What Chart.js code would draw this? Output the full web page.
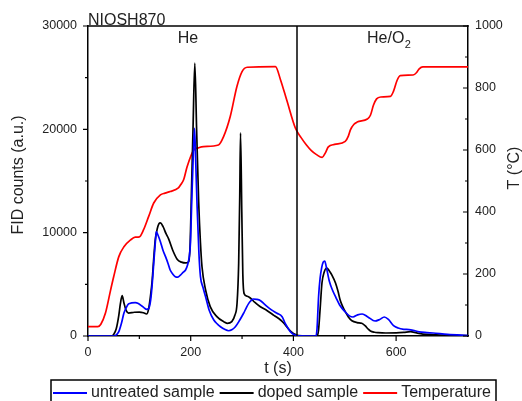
<!DOCTYPE html>
<html>
<head>
<meta charset="utf-8">
<script src="https://cdn.jsdelivr.net/npm/chart.js@4.4.1/dist/chart.umd.min.js"></script>
<style>
    html, body { margin: 0; padding: 0; background: #fff; }
</style>
</head>
<body>
<canvas id="fidChart" width="522" height="401"></canvas>
<script>
// untreated sample (blue)
let untreatedTime = [0, 50, 53, 56, 60, 65, 70, 75, 79, 85, 92, 98, 105, 110, 114, 118, 122, 125, 128, 131, 133, 136, 141, 146, 151, 156, 160, 165, 170, 175, 180, 185, 190, 194, 197, 199.5, 202, 205, 207.5, 210, 212.5, 216, 219, 224, 229, 236, 245, 252, 258, 266, 274, 280, 287, 295, 303, 308, 313, 318, 322, 328, 336, 343, 349, 358, 368, 378, 384, 389, 394, 399, 404, 410, 444, 446, 449, 452, 455, 458, 461, 464, 470, 476, 483, 490, 501, 509, 516, 525, 534, 545, 559, 568, 577, 585, 595, 604, 615, 625, 633, 645, 660, 672, 700, 740];
let untreatedFid = [0, 0, 30, 150, 420, 1200, 2220, 2800, 3100, 3200, 3230, 3150, 2900, 2700, 2580, 2650, 3480, 5000, 7030, 9000, 10100, 9800, 9130, 8300, 7680, 7000, 6390, 6000, 5740, 5700, 5900, 6150, 6390, 6900, 7600, 9000, 13000, 17500, 20100, 16500, 12500, 8000, 5740, 4700, 3800, 2500, 1550, 1150, 900, 650, 510, 600, 900, 1500, 2200, 2700, 3160, 3450, 3580, 3550, 3420, 3100, 2840, 2500, 2200, 1870, 1230, 800, 420, 200, 100, 20, 0, 700, 3800, 5600, 6600, 7150, 7260, 6700, 5300, 4450, 3700, 3000, 2320, 1950, 1840, 2050, 2130, 1850, 1450, 1600, 1840, 1600, 1000, 770, 650, 620, 550, 400, 330, 290, 150, 50];

// doped sample (black)
let dopedTime = [0, 45, 50, 55, 60, 63, 66.5, 70, 74, 79, 90, 100, 108, 114, 118, 122, 125, 128, 131, 135, 138, 141, 146, 152, 157, 165, 174, 182, 190, 196, 199, 201, 204.5, 208, 211.5, 215.5, 219, 222, 229, 238, 251, 264, 271, 280, 286, 290.3, 293.4, 295.5, 297, 299.5, 301.5, 304, 310, 316, 325, 335, 349, 362, 375, 381, 390, 400, 410, 446, 449, 452, 455.6, 460, 465, 470, 475, 482, 487, 491, 496, 501, 507, 514, 524, 533, 540, 545, 550, 558, 565, 580, 600, 615, 628, 640, 660, 700, 740];
let dopedFid = [0, 0, 150, 700, 2000, 3100, 3900, 3200, 2500, 2220, 2300, 2320, 2250, 2130, 2600, 4000, 5400, 7500, 9300, 10400, 10850, 10940, 10600, 9900, 9400, 8300, 7400, 7150, 7070, 7190, 9000, 13000, 20000, 26400, 20000, 13000, 9000, 6700, 4450, 2840, 1870, 1390, 1230, 1390, 2000, 3200, 7000, 13500, 19650, 12000, 6000, 4100, 3850, 3680, 3250, 2850, 2450, 2000, 1550, 1260, 700, 250, 50, 0, 600, 2600, 5130, 6200, 6580, 6300, 5900, 5130, 4300, 3480, 2850, 2350, 1850, 1480, 1300, 1230, 970, 700, 480, 360, 320, 290, 300, 350, 420, 300, 150, 80, 30];

// temperature (red, right axis)
let tempTime = [0, 19, 25, 34, 44, 50, 60, 70, 83, 92, 100, 108, 118, 128, 141, 150, 160, 176, 180, 186, 193, 206, 215, 225, 254, 264, 277, 290, 300, 310, 365, 375, 387, 404, 415, 425, 435, 445, 456, 462, 468, 480, 501, 507, 511, 518, 524, 544, 550, 556, 562, 570, 589, 595, 602, 608, 633, 640, 645, 652, 740];
let tempValues = [30, 30, 38, 74, 148, 191, 256, 288, 310, 319, 320, 342, 385, 429, 455, 461, 466, 478, 487, 503, 546, 600, 607, 611, 616, 643, 708, 805, 853, 867, 869, 826, 761, 670, 640, 617, 598, 585, 576, 590, 610, 618, 628, 645, 665, 683, 690, 700, 712, 745, 765, 771, 773, 790, 825, 840, 842, 850, 862, 868, 868];

let xLabelTicks = [0, 200, 400, 600];
let fidLabelTicks = [0, 10000, 20000, 30000];
let tempLabelTicks = [0, 200, 400, 600, 800, 1000];
let gasSwitchTime = 407;   // He -> He/O2

function toPoints(xs, ys) {
    return xs.map(function (x, i) { return { x: x, y: ys[i] }; });
}

let FONT = "'Liberation Sans', Arial, sans-serif";
Chart.defaults.font.family = FONT;
Chart.defaults.font.size = 12.5;
Chart.defaults.color = "#222";

// frame, tick marks, labels and the legend box
let decorations = {
    id: "decorations",
    afterDraw(chart) {
        let ctx = chart.ctx;
        let area = chart.chartArea;
        let xs = chart.scales.x, ys = chart.scales.y, ts = chart.scales.y1;

        ctx.save();
        ctx.strokeStyle = "#000";
        ctx.lineWidth = 1.5;

        // top frame
        ctx.beginPath();
        ctx.moveTo(area.left - 0.75, area.top);
        ctx.lineTo(area.right + 0.75, area.top);
        ctx.stroke();

        // divider between He and He/O2
        let sx = xs.getPixelForValue(gasSwitchTime);
        ctx.beginPath();
        ctx.moveTo(sx, area.top);
        ctx.lineTo(sx, area.bottom);
        ctx.stroke();

        // tick marks
        ctx.lineWidth = 1.2;
        ctx.beginPath();
        xs.ticks.forEach(function (t) {
            let px = xs.getPixelForValue(t.value);
            let len = xLabelTicks.includes(t.value) ? 5 : 3;
            ctx.moveTo(px, area.bottom);
            ctx.lineTo(px, area.bottom + len);
        });
        ys.ticks.forEach(function (t) {
            let py = ys.getPixelForValue(t.value);
            let len = fidLabelTicks.includes(t.value) ? 5 : 3;
            ctx.moveTo(area.left, py);
            ctx.lineTo(area.left - len, py);
        });
        ts.ticks.forEach(function (t) {
            let py = ts.getPixelForValue(t.value);
            let len = tempLabelTicks.includes(t.value) ? 5 : 3;
            ctx.moveTo(area.right, py);
            ctx.lineTo(area.right - len, py);
        });
        ctx.stroke();

        // texts
        ctx.fillStyle = "#222";
        ctx.font = "16px " + FONT;
        ctx.textBaseline = "alphabetic";
        ctx.textAlign = "left";
        ctx.fillText("NIOSH870", area.left, 25);

        ctx.textAlign = "center";
        ctx.fillText("He", 188, 43);

        ctx.textAlign = "left";
        ctx.fillText("He/O", 367, 43);
        let w = ctx.measureText("He/O").width;
        ctx.font = "11px " + FONT;
        ctx.fillText("2", 367 + w + 0.5, 48);

        ctx.font = "16px " + FONT;
        ctx.textAlign = "center";
        ctx.textBaseline = "middle";
        ctx.fillText("t (s)", 278, 369);

        ctx.save();
        ctx.translate(19, 175);
        ctx.rotate(-Math.PI / 2);
        ctx.fillText("FID counts (a.u.)", 0, 0);
        ctx.restore();

        ctx.save();
        ctx.translate(515, 168);
        ctx.rotate(-Math.PI / 2);
        ctx.fillText("T (\u00B0C)", 0, 0);
        ctx.restore();

        // legend
        ctx.strokeStyle = "#000";
        ctx.lineWidth = 1.5;
        ctx.strokeRect(51, 380, 445, 30);
        ctx.textAlign = "left";
        ctx.textBaseline = "middle";
        let lx = 53;
        let ly = 393;
        chart.data.datasets.forEach(function (ds) {
            ctx.strokeStyle = ds.borderColor;
            ctx.lineWidth = 2;
            ctx.beginPath();
            ctx.moveTo(lx, ly);
            ctx.lineTo(lx + 34, ly);
            ctx.stroke();
            lx += 38;
            ctx.fillStyle = "#222";
            ctx.fillText(ds.label, lx, ly);
            lx += ctx.measureText(ds.label).width + 5;
        });

        ctx.restore();
    }
};

let ctx = document.getElementById("fidChart").getContext("2d");

let chart = new Chart(ctx, {
    type: "line",
    data: {
        datasets: [
            {
                label: "untreated sample",
                data: toPoints(untreatedTime, untreatedFid),
                borderColor: "#0000ff",
                yAxisID: "y"
            },
            {
                label: "doped sample",
                data: toPoints(dopedTime, dopedFid),
                borderColor: "#000000",
                yAxisID: "y"
            },
            {
                label: "Temperature",
                data: toPoints(tempTime, tempValues),
                borderColor: "#ff0000",
                yAxisID: "y1"
            }
        ]
    },
    options: {
        responsive: false,
        animation: false,
        layout: { padding: { top: 26, left: 0, right: 0, bottom: 0 } },
        elements: {
            point: { radius: 0 },
            line: { borderWidth: 1.7, cubicInterpolationMode: "monotone", fill: false }
        },
        plugins: {
            legend: { display: false },
            tooltip: { enabled: false }
        },
        scales: {
            x: {
                type: "linear",
                min: 0,
                max: 740,
                grid: { display: false, drawTicks: false },
                border: { display: true, color: "#000", width: 1.5 },
                ticks: {
                    stepSize: 100,
                    padding: 9,
                    maxRotation: 0,
                    autoSkip: false,
                    callback: function (v) { return xLabelTicks.includes(v) ? v : ""; }
                },
                afterBuildTicks: function (scale) {
                    scale.ticks = scale.ticks.filter(function (t) { return t.value % 100 === 0; });
                },
                afterFit: function (scale) { scale.height = 65; }
            },
            y: {
                position: "left",
                min: 0,
                max: 30000,
                grid: { display: false, drawTicks: false },
                border: { display: true, color: "#000", width: 1.5 },
                ticks: {
                    stepSize: 5000,
                    padding: 11,
                    autoSkip: false,
                    callback: function (v) { return fidLabelTicks.includes(v) ? v : ""; }
                },
                afterFit: function (scale) { scale.width = 88; }
            },
            y1: {
                position: "right",
                min: 0,
                max: 1000,
                grid: { display: false, drawTicks: false },
                border: { display: true, color: "#000", width: 1.5 },
                ticks: {
                    stepSize: 100,
                    padding: 7,
                    autoSkip: false,
                    callback: function (v) { return tempLabelTicks.includes(v) ? v : ""; }
                },
                afterFit: function (scale) { scale.width = 54; }
            }
        }
    },
    plugins: [decorations]
});
</script>
</body>
</html>
